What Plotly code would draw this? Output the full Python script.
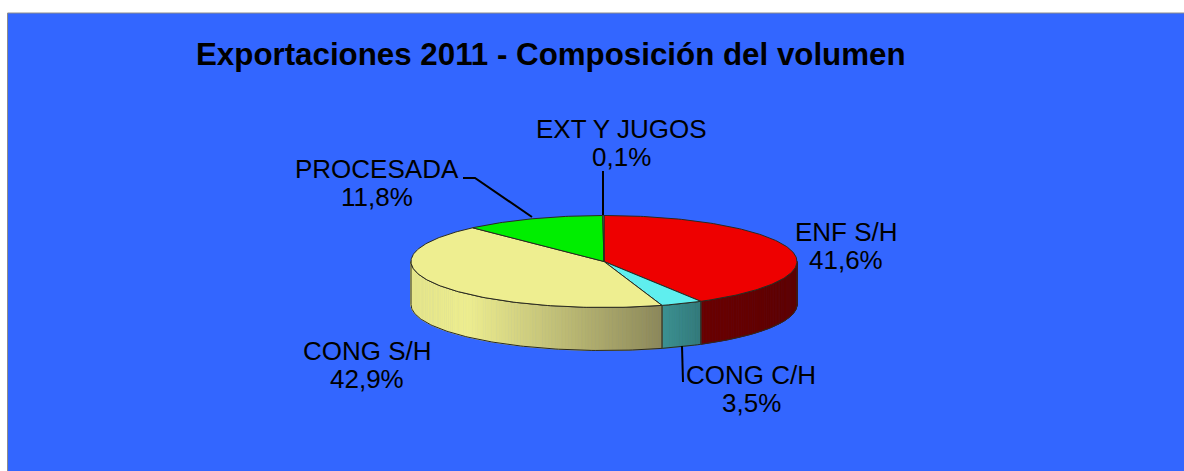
import numpy as np
import plotly.graph_objects as go

categories = ["ENF S/H", "CONG C/H", "CONG S/H", "PROCESADA", "EXT Y JUGOS"]
values = [41.6, 3.5, 42.9, 11.8, 0.1]
value_labels = ["41,6%", "3,5%", "42,9%", "11,8%", "0,1%"]
title_text = "Exportaciones 2011 - Composición del volumen"

top_colors = ["#EE0000", "#5FEEEE", "#EEEE90", "#00EE00", "#3FA0A0"]
side_from = ["#6A0000", "#3C9292", "#EEEE90", "#00A000", "#206060"]
side_to = ["#5E0000", "#347A7A", "#8C885A", "#00A000", "#206060"]

W, H = 1184, 471
CX, CY, RX, RY, DEPTH = 604, 261.5, 193, 46, 43
BG = "#3366FF"
EDGE = "#2A2A20"

label_pos = {
    "ENF S/H": (846, 232, 260),
    "CONG C/H": (751, 375, 403),
    "CONG S/H": (367, 351, 379),
    "PROCESADA": (377, 169, 197),
    "EXT Y JUGOS": (621, 129, 157),
}
leaders = [
    ([463, 475, 532], [178, 178, 217]),
    ([603, 603], [171, 215]),
    ([682, 683], [346, 382]),
]

total = sum(values)
edges = np.concatenate([[0], np.cumsum(values) / total * 360])


def rim(a):
    a = np.radians(a)
    return CX + RX * np.sin(a), CY - RY * np.cos(a)


def rgb(h):
    return np.array([int(h[i:i + 2], 16) for i in (1, 3, 5)], dtype=float)


def mix(a, b, t):
    c = rgb(a) + (rgb(b) - rgb(a)) * t
    return "rgb(%d,%d,%d)" % tuple(c)


fig = go.Figure()


def poly(x, y, fill, line, width):
    fig.add_trace(go.Scatter(
        x=list(x), y=list(y), mode="lines", fill="toself", fillcolor=fill,
        line=dict(color=line, width=width), hoverinfo="skip", showlegend=False,
    ))


# Visible side wall: the front half of the disc, split in thin strips for the shading
for i in range(len(values)):
    a0, a1 = max(edges[i], 90), min(edges[i + 1], 270)
    if a1 <= a0:
        continue
    n = max(2, int((a1 - a0) / 1.0))
    steps = np.linspace(a0, a1, n + 1)
    xs_all = rim(steps)[0]
    for j in range(n):
        xa, ya = rim(steps[j])
        xb, yb = rim(steps[j + 1])
        xm = (xa + xb) / 2
        if categories[i] == "CONG S/H":
            if xm < 467:
                col = mix("#E6E68A", "#EEEE90", (xm - 411) / 56)
            else:
                col = mix(side_from[i], side_to[i], (xm - 467) / (662.5 - 467))
        else:
            t = (xm - xs_all.min()) / (xs_all.max() - xs_all.min())
            col = mix(side_from[i], side_to[i], t)
        poly([xa, xb, xb, xa, xa], [ya, yb, yb + DEPTH, ya + DEPTH, ya], col, col, 0.8)
    # Outline of this part of the wall
    xr, yr = rim(steps)
    fig.add_trace(go.Scatter(
        x=list(xr) + list(xr[::-1]) + [xr[0]],
        y=list(yr) + list((yr + DEPTH)[::-1]) + [yr[0]],
        mode="lines", line=dict(color=EDGE, width=1), hoverinfo="skip", showlegend=False,
    ))

# Top face
for i in range(len(values)):
    arc = np.linspace(edges[i], edges[i + 1], max(3, int(values[i] * 4)))
    xr, yr = rim(arc)
    poly([CX] + list(xr) + [CX], [CY] + list(yr) + [CY], top_colors[i], EDGE, 1)

# Leader lines
for lx, ly in leaders:
    fig.add_trace(go.Scatter(x=lx, y=ly, mode="lines", line=dict(color="#000000", width=2),
                             hoverinfo="skip", showlegend=False))

annotations = []
for cat, pct in zip(categories, value_labels):
    x, y1, y2 = label_pos[cat]
    for txt, y in ((cat, y1), (pct, y2)):
        annotations.append(dict(x=x, y=y, xref="x", yref="y", text=txt, showarrow=False,
                                xanchor="center", yanchor="middle",
                                font=dict(family="Liberation Sans", size=26, color="#000000")))
annotations.append(dict(x=551, y=54, xref="x", yref="y", text="<b>%s</b>" % title_text,
                        showarrow=False, xanchor="center", yanchor="middle",
                        font=dict(family="Liberation Sans", size=31.3, color="#000000")))

fig.update_layout(
    width=W, height=H, autosize=False,
    margin=dict(l=0, r=0, t=0, b=0),
    paper_bgcolor="#FFFFFF", plot_bgcolor="#FFFFFF",
    xaxis=dict(range=[0, W], visible=False, fixedrange=True),
    yaxis=dict(range=[H, 0], visible=False, fixedrange=True),
    annotations=annotations,
    shapes=[dict(type="rect", xref="x", yref="y", x0=7.5, y0=13, x1=W + 5, y1=H + 5,
                 fillcolor=BG, line=dict(color="#8C8C8C", width=1), layer="below")],
)
fig.write_html(
    "out.html",
    config=dict(displayModeBar=False),
    post_script="document.documentElement.style.overflow='hidden';document.body.style.margin='0';",
)
